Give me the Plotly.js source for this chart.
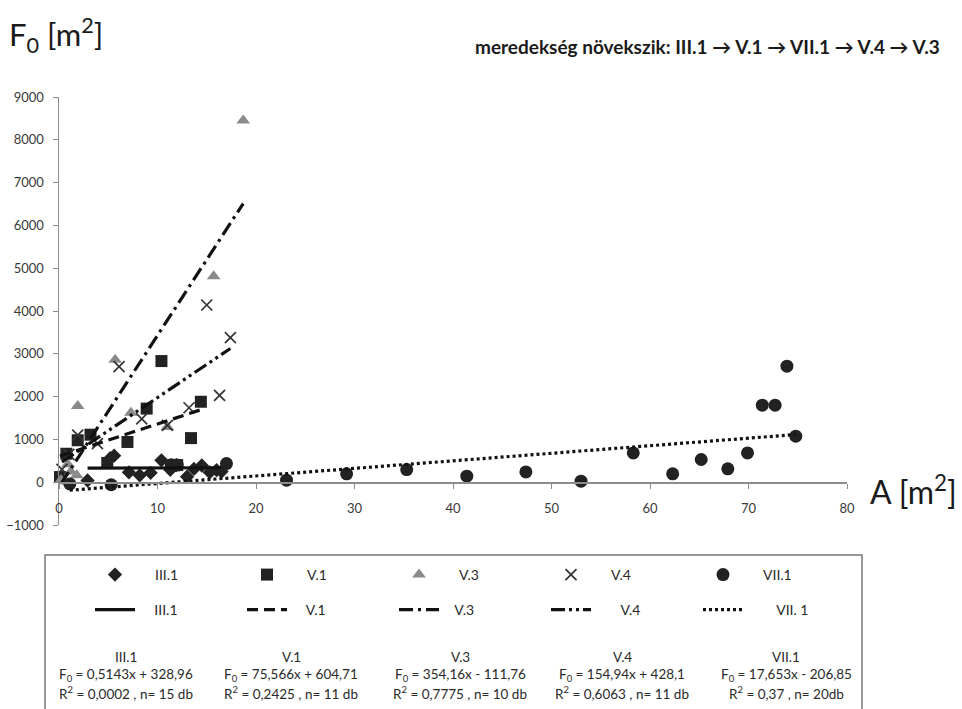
<!DOCTYPE html>
<html><head><meta charset="utf-8">
<script src="https://cdn.plot.ly/plotly-3.0.1.min.js"></script>
<style>html,body{margin:0;padding:0;background:#fff}#chart{width:962px;height:709px}</style>
</head><body><div id="chart"></div>
<script>
// ---------- data ----------
const seriesNames = ['III.1', 'V.1', 'V.3', 'V.4', 'VII.1'];
const trendNames  = ['III.1', 'V.1', 'V.3', 'V.4', 'VII. 1'];

const x_III1 = [2.9, 5.2, 5.6, 7.1, 8.2, 9.3, 10.4, 11.3, 11.9, 13.0, 13.7, 14.5, 15.3, 16.0, 16.5];
const y_III1 = [40, 560, 620, 230, 160, 220, 510, 290, 400, 130, 310, 390, 230, 280, 250];

const x_V1 = [0.1, 0.75, 1.9, 3.2, 4.9, 6.95, 8.9, 10.4, 12.0, 13.4, 14.4];
const y_V1 = [120, 665, 980, 1110, 450, 940, 1720, 2830, 400, 1030, 1880];

const x_V3 = [0.2, 0.9, 1.2, 1.8, 1.9, 5.7, 7.3, 11.0, 15.7, 18.7];
const y_V3 = [50, 420, 250, 160, 1780, 2860, 1620, 1290, 4810, 8450];

const x_V4 = [0.3, 1.0, 1.9, 3.9, 6.1, 8.4, 11.0, 13.2, 15.0, 16.3, 17.4];
const y_V4 = [300, 650, 1100, 900, 2700, 1480, 1330, 1740, 4140, 2030, 3380];

const x_VII1 = [1.1, 5.3, 11.4, 12.0, 17.0, 23.1, 29.2, 35.3, 41.4, 47.4, 53.0, 58.3, 62.3, 65.2, 67.9, 69.9, 71.4, 72.7, 73.9, 74.8];
const y_VII1 = [-40, -60, 410, 400, 436, 47, 195, 296, 140, 241, 23, 685, 195, 530, 312, 685, 1800, 1800, 2710, 1075];

const slopes     = [0.5143, 75.566, 354.16, 154.94, 17.653];
const intercepts = [328.96, 604.71, -111.76, 428.1, -206.85];

const eqTitles = ['III.1', 'V.1', 'V.3', 'V.4', 'VII.1'];
const eqLines  = ['F<sub>0</sub> = 0,5143x + 328,96', 'F<sub>0</sub> = 75,566x + 604,71', 'F<sub>0</sub> = 354,16x - 111,76', 'F<sub>0</sub> = 154,94x + 428,1', 'F<sub>0</sub> = 17,653x - 206,85'];
const r2Lines  = ['R<sup>2</sup> = 0,0002 , n= 15 db', 'R<sup>2</sup> = 0,2425 , n= 11 db', 'R<sup>2</sup> = 0,7775 , n= 10 db', 'R<sup>2</sup> = 0,6063 , n= 11 db', 'R<sup>2</sup> = 0,37 , n= 20db'];

const yTitle = 'F<sub>0</sub> [m<sup>2</sup>]';
const xTitle = 'A [m<sup>2</sup>]';
const topNote = 'meredekség növekszik: III.1 → V.1 → VII.1 → V.4 → V.3';

// ---------- styling ----------
const FONT = 'Lato, "Open Sans", sans-serif';
const xs = [x_III1, x_V1, x_V3, x_V4, x_VII1];
const ys = [y_III1, y_V1, y_V3, y_V4, y_VII1];
const markerStyles = [
  {symbol: 'diamond', size: 11, color: '#222'},
  {symbol: 'square', size: 12, color: '#222'},
  {symbol: 'triangle-up', size: 12, color: '#8a8a8a'},
  {symbol: 'x-thin-open', size: 11, color: '#333', line: {width: 1.7, color: '#333'}},
  {symbol: 'circle', size: 13, color: '#222'}
];
const dashes = ['solid', '11px,6px', '14px,5px,3px,5px', '14px,4px,3px,4px,3px,4px', '3px,3px'];
const NB = '\u00A0';
const trendLegendPad = [NB.repeat(4), NB.repeat(4), NB.repeat(3), NB.repeat(7), NB.repeat(8)];

const W = 962, H = 709;
const M = {l: 59, r: 115, t: 97, b: 184};
const pw = W - M.l - M.r, ph = H - M.t - M.b;
const px2x = p => (p - M.l) / pw;
const py2y = p => (H - M.b - p) / ph;

const traces = [];
for (let i = 0; i < 5; i++) {
  traces.push({
    type: 'scatter', mode: 'markers', x: xs[i], y: ys[i], name: seriesNames[i],
    marker: markerStyles[i], legend: 'legend', cliponaxis: false, hoverinfo: 'x+y'
  });
}
for (let i = 0; i < 5; i++) {
  const x0 = Math.min(...xs[i]), x1 = Math.max(...xs[i]);
  traces.push({
    type: 'scatter', mode: 'lines', x: [x0, x1],
    y: [slopes[i] * x0 + intercepts[i], slopes[i] * x1 + intercepts[i]],
    name: trendLegendPad[i] + trendNames[i], line: {color: '#111', width: 3.2, dash: dashes[i]},
    legend: 'legend2', cliponaxis: false, hoverinfo: 'skip'
  });
}

const annotations = [
  {text: yTitle, x: px2x(7), y: py2y(35), xref: 'paper', yref: 'paper', xanchor: 'left', yanchor: 'middle', showarrow: false, font: {family: FONT, size: 31, color: '#1a1a1a'}},
  {text: xTitle, x: px2x(868), y: py2y(490), xref: 'paper', yref: 'paper', xanchor: 'left', yanchor: 'middle', showarrow: false, font: {family: FONT, size: 32, color: '#1a1a1a'}},
  {text: '<b>' + topNote + '</b>', x: px2x(942), y: py2y(46), xref: 'paper', yref: 'paper', xanchor: 'right', yanchor: 'middle', showarrow: false, font: {family: FONT, size: 19, color: '#1a1a1a'}}
];
const eqCenters = [126, 291, 460, 622, 786];
for (let i = 0; i < 5; i++) {
  [[eqTitles[i], 657], [eqLines[i], 675], [r2Lines[i], 693]].forEach(([t, py]) => {
    annotations.push({text: t, x: px2x(eqCenters[i]), y: py2y(py), xref: 'paper', yref: 'paper',
      xanchor: 'center', yanchor: 'middle', showarrow: false, font: {family: FONT, size: 13.5, color: '#2a2a2a'}});
  });
}

const legendBase = {orientation: 'h', xanchor: 'left', yanchor: 'middle', entrywidthmode: 'pixels',
  font: {family: FONT, size: 14, color: '#2a2a2a'}, bgcolor: 'rgba(0,0,0,0)', borderwidth: 0};

const layout = {
  width: W, height: H, margin: M, paper_bgcolor: '#fff', plot_bgcolor: '#fff',
  font: {family: FONT},
  showlegend: true,
  legend: Object.assign({}, legendBase, {x: px2x(75), y: py2y(575), itemwidth: 70, entrywidth: 67}),
  legend2: Object.assign({}, legendBase, {x: px2x(90), y: py2y(610), itemwidth: 40, entrywidth: 97}),
  xaxis: {range: [0, 80], tickmode: 'linear', tick0: 0, dtick: 10, showline: true, linecolor: '#8c8c8c', linewidth: 1.5,
    ticks: 'outside', ticklen: 5, tickcolor: '#8c8c8c', anchor: 'free', position: 0.1, showgrid: false, zeroline: false,
    tickfont: {family: FONT, size: 13, color: '#3a3a3a'}, ticklabelstandoff: 9},
  yaxis: {range: [-1000, 9000], tickmode: 'linear', tick0: 0, dtick: 1000, showline: true, linecolor: '#8c8c8c', linewidth: 1.5,
    ticks: 'outside', ticklen: 5, tickcolor: '#8c8c8c', showgrid: false, zeroline: false,
    tickfont: {family: FONT, size: 13, color: '#3a3a3a'}, ticklabelstandoff: 6},
  shapes: [{type: 'rect', xref: 'paper', yref: 'paper', x0: px2x(45), x1: px2x(862), y0: py2y(555), y1: py2y(716),
    line: {color: '#777', width: 1.5}, fillcolor: 'rgba(0,0,0,0)'}],
  annotations: annotations
};

Plotly.newPlot('chart', traces, layout, {displayModeBar: false, staticPlot: true});
</script>
</body></html>
